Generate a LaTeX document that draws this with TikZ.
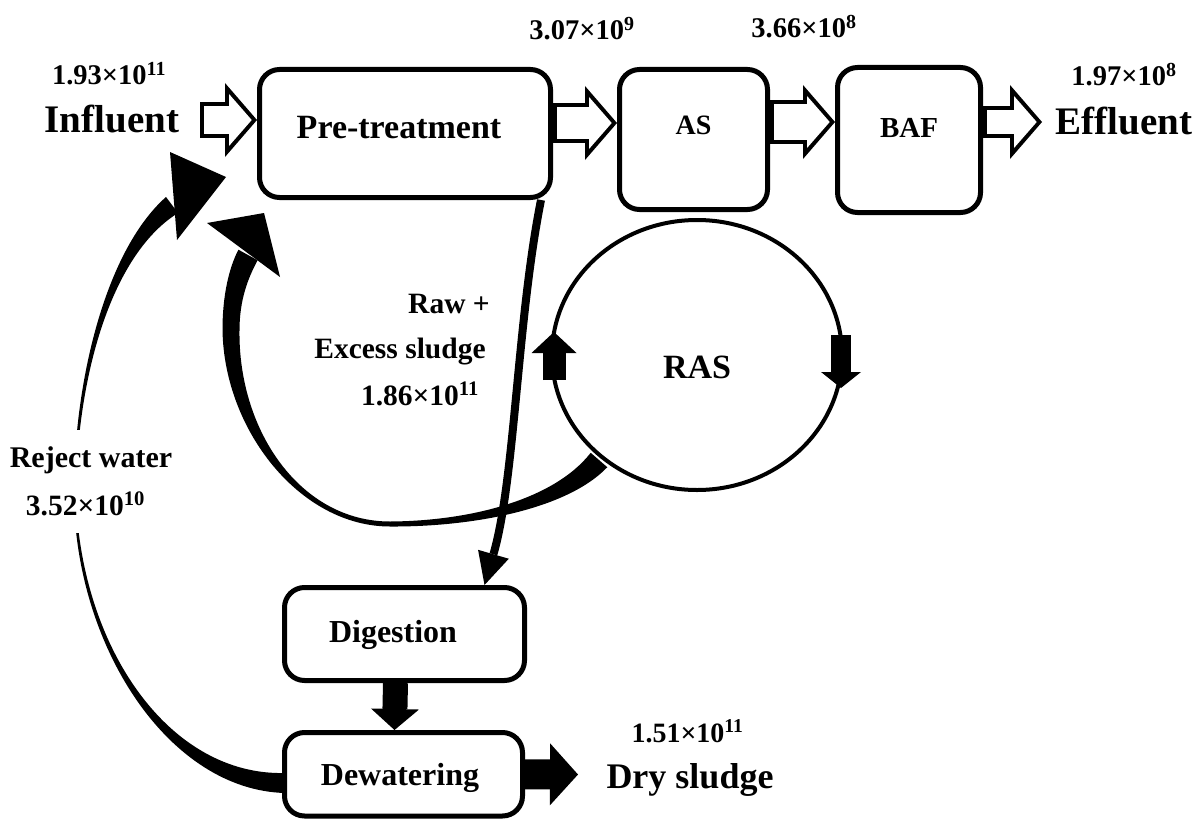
\documentclass[tikz,border=0pt]{standalone}
\usepackage{fontspec}
\setmainfont{Liberation Serif}
\usetikzlibrary{arrows.meta,shapes.geometric}
\newcommand\myfs[1]{\fontsize{#1pt}{#1pt}\selectfont\bfseries}
% hollow block arrow: #1 start, #2 end, #3 outer shaft height, #4 inner shaft height
\newcommand\hollowarrow[4]{%
  \draw[line width=#3, -{Triangle[width=74pt,length=32pt,line width=0pt]}] #1 -- #2;
  \draw[white, line width=#4, shorten <=4pt, shorten >=5.3pt,
        -{Triangle[width=52pt,length=22.7pt,line width=0pt]}] #1 -- #2;
}
\begin{document}
\begin{tikzpicture}[x=1pt,y=-1pt,
  box/.style={draw, line width=5pt, rounded corners=20pt, inner sep=0pt, align=center},
  lbl/.style={anchor=base, inner sep=0pt},
  solidarrow/.style={line width=#1}]
\useasboundingbox (0,0) rectangle (1198,824);

% ---------- process boxes ----------
\node[box, anchor=base, text width=291pt, text height=68.5pt, text depth=59.5pt, font=\myfs{34}]
  (pre) at (405,138) {\hspace*{-12pt}Pre-treatment};
\node[box, anchor=base, text width=148pt, text height=65.5pt, text depth=74.5pt, font=\myfs{28}]
  (as) at (693.5,135) {AS};
\node[box, anchor=base, text width=143pt, text height=69.5pt, text depth=75.5pt, font=\myfs{29}]
  (baf) at (909,137) {BAF};
\node[box, anchor=base, text width=240pt, text height=54.5pt, text depth=38.5pt, font=\myfs{32}]
  (dig) at (404.5,642) {\hspace*{-23pt}Digestion};
\node[box, anchor=base, text width=238pt, text height=52.5pt, text depth=31pt, font=\myfs{32}]
  (dew) at (403.5,785) {\hspace*{-7pt}Dewatering};

% ---------- reject water band (Dewatering -> Pre-treatment) ----------
\fill (285,793) .. controls (170,790) and (77.5,650) .. (74,500)
      .. controls (72.5,390) and (103.2,252.6) .. (166,197)
      -- (178,213) .. controls (106.8,257.4) and (75.5,390) .. (76,500)
      .. controls (82.5,650) and (170,776) .. (285,773) -- cycle;
\fill (170,152) -- (226,177) -- (177,240) -- cycle;

% ---------- RAS return band (RAS -> Pre-treatment) ----------
\fill (607.3,467.2) .. controls (566,510.2) and (470,527) .. (390,526.5)
      .. controls (300,526.5) and (224,430) .. (222.5,330)
      .. controls (222.5,295) and (229,268) .. (238.4,249.7)
      -- (257.6,260.3) .. controls (248,278) and (239.5,300) .. (239.5,330)
      .. controls (238,430) and (300,521.5) .. (390,521.5)
      .. controls (470,521) and (554,499.8) .. (590.7,452.8) -- cycle;
\fill (207,223) -- (264,213) -- (280,277) -- cycle;

% ---------- RAS loop ----------
\node[draw, ellipse, line width=4pt, minimum width=290pt, minimum height=270pt, inner sep=0pt,
      text height=60pt, text depth=14pt, font=\myfs{34}] (ras) at (697,355) {RAS};
\draw[line width=23pt, -{Triangle[width=45pt,length=21pt,line width=0pt]}]
  ([xshift=4pt,yshift=-25pt]ras.west) -- ([xshift=4pt,yshift=23pt]ras.west);
\draw[line width=20pt, -{Triangle[width=40pt,length=16pt,line width=0pt]}]
  ([xshift=-3pt,yshift=20pt]ras.east) -- ([xshift=-3pt,yshift=-33pt]ras.east);

% ---------- raw + excess sludge ----------
\draw[line width=8pt, -{Triangle[width=32pt,length=32pt,line width=0pt]}]
  ([xshift=-12pt]pre.south east) .. controls (517,320) and (515,480) .. ([xshift=80pt]dig.north);

% ---------- main line hollow arrows ----------
\coordinate (inS) at (200,120);
\hollowarrow{(inS)}{([yshift=13.5pt]pre.west)}{35pt}{27pt}
\hollowarrow{([yshift=10.5pt]pre.east)}{([yshift=16.5pt]as.west)}{40pt}{32pt}
\hollowarrow{([yshift=17.5pt]as.east)}{([yshift=18pt]baf.west)}{43pt}{35pt}
\coordinate (effE) at (1042,122);
\hollowarrow{([yshift=18pt]baf.east)}{(effE)}{31pt}{23pt}

% ---------- sludge line ----------
\draw[line width=25pt, -{Triangle[width=48pt,length=21pt,line width=0pt]}]
  ([xshift=-9pt]dig.south) -- ([xshift=-9pt]dew.north);
\coordinate (dryT) at (578,774.5);
\draw[line width=30pt, -{Triangle[width=62pt,length=28pt,line width=0pt]}]
  (dew.east) -- (dryT);

% ---------- labels ----------
\node[lbl, font=\myfs{28.5}] (qin) at (109,85) {1.93×10\textsuperscript{11}};
\node[lbl, font=\myfs{39}] (influent) at (112,132) {Influent};
\node[lbl, font=\myfs{28.5}] (qas) at (582,40) {3.07×10\textsuperscript{9}};
\node[lbl, font=\myfs{28.5}] (qbaf) at (804,38) {3.66×10\textsuperscript{8}};
\node[lbl, font=\myfs{28.5}] (qeff) at (1124,86) {1.97×10\textsuperscript{8}};
\node[lbl, font=\myfs{39}] (effluent) at (1124,135) {Effluent};
\node[lbl, font=\myfs{29.5}] (raw1) at (449,313) {Raw +};
\node[lbl, font=\myfs{29.5}] (raw2) at (400,358) {Excess sludge};
\node[lbl, font=\myfs{29.5}] (raw3) at (420,405) {1.86×10\textsuperscript{11}};
\node[lbl, fill=white, text height=37pt, text depth=14pt, font=\myfs{30}] (rej1) at (91,467) {Reject water};
\node[lbl, fill=white, text height=34pt, text depth=18pt, font=\myfs{29.5}] (rej2) at (85.5,515) {3.52×10\textsuperscript{10}};
\node[lbl, font=\myfs{28}] (qdry) at (687.5,742) {1.51×10\textsuperscript{11}};
\node[lbl, font=\myfs{36}] (dry) at (690,788) {Dry sludge};
\end{tikzpicture}
\end{document}
